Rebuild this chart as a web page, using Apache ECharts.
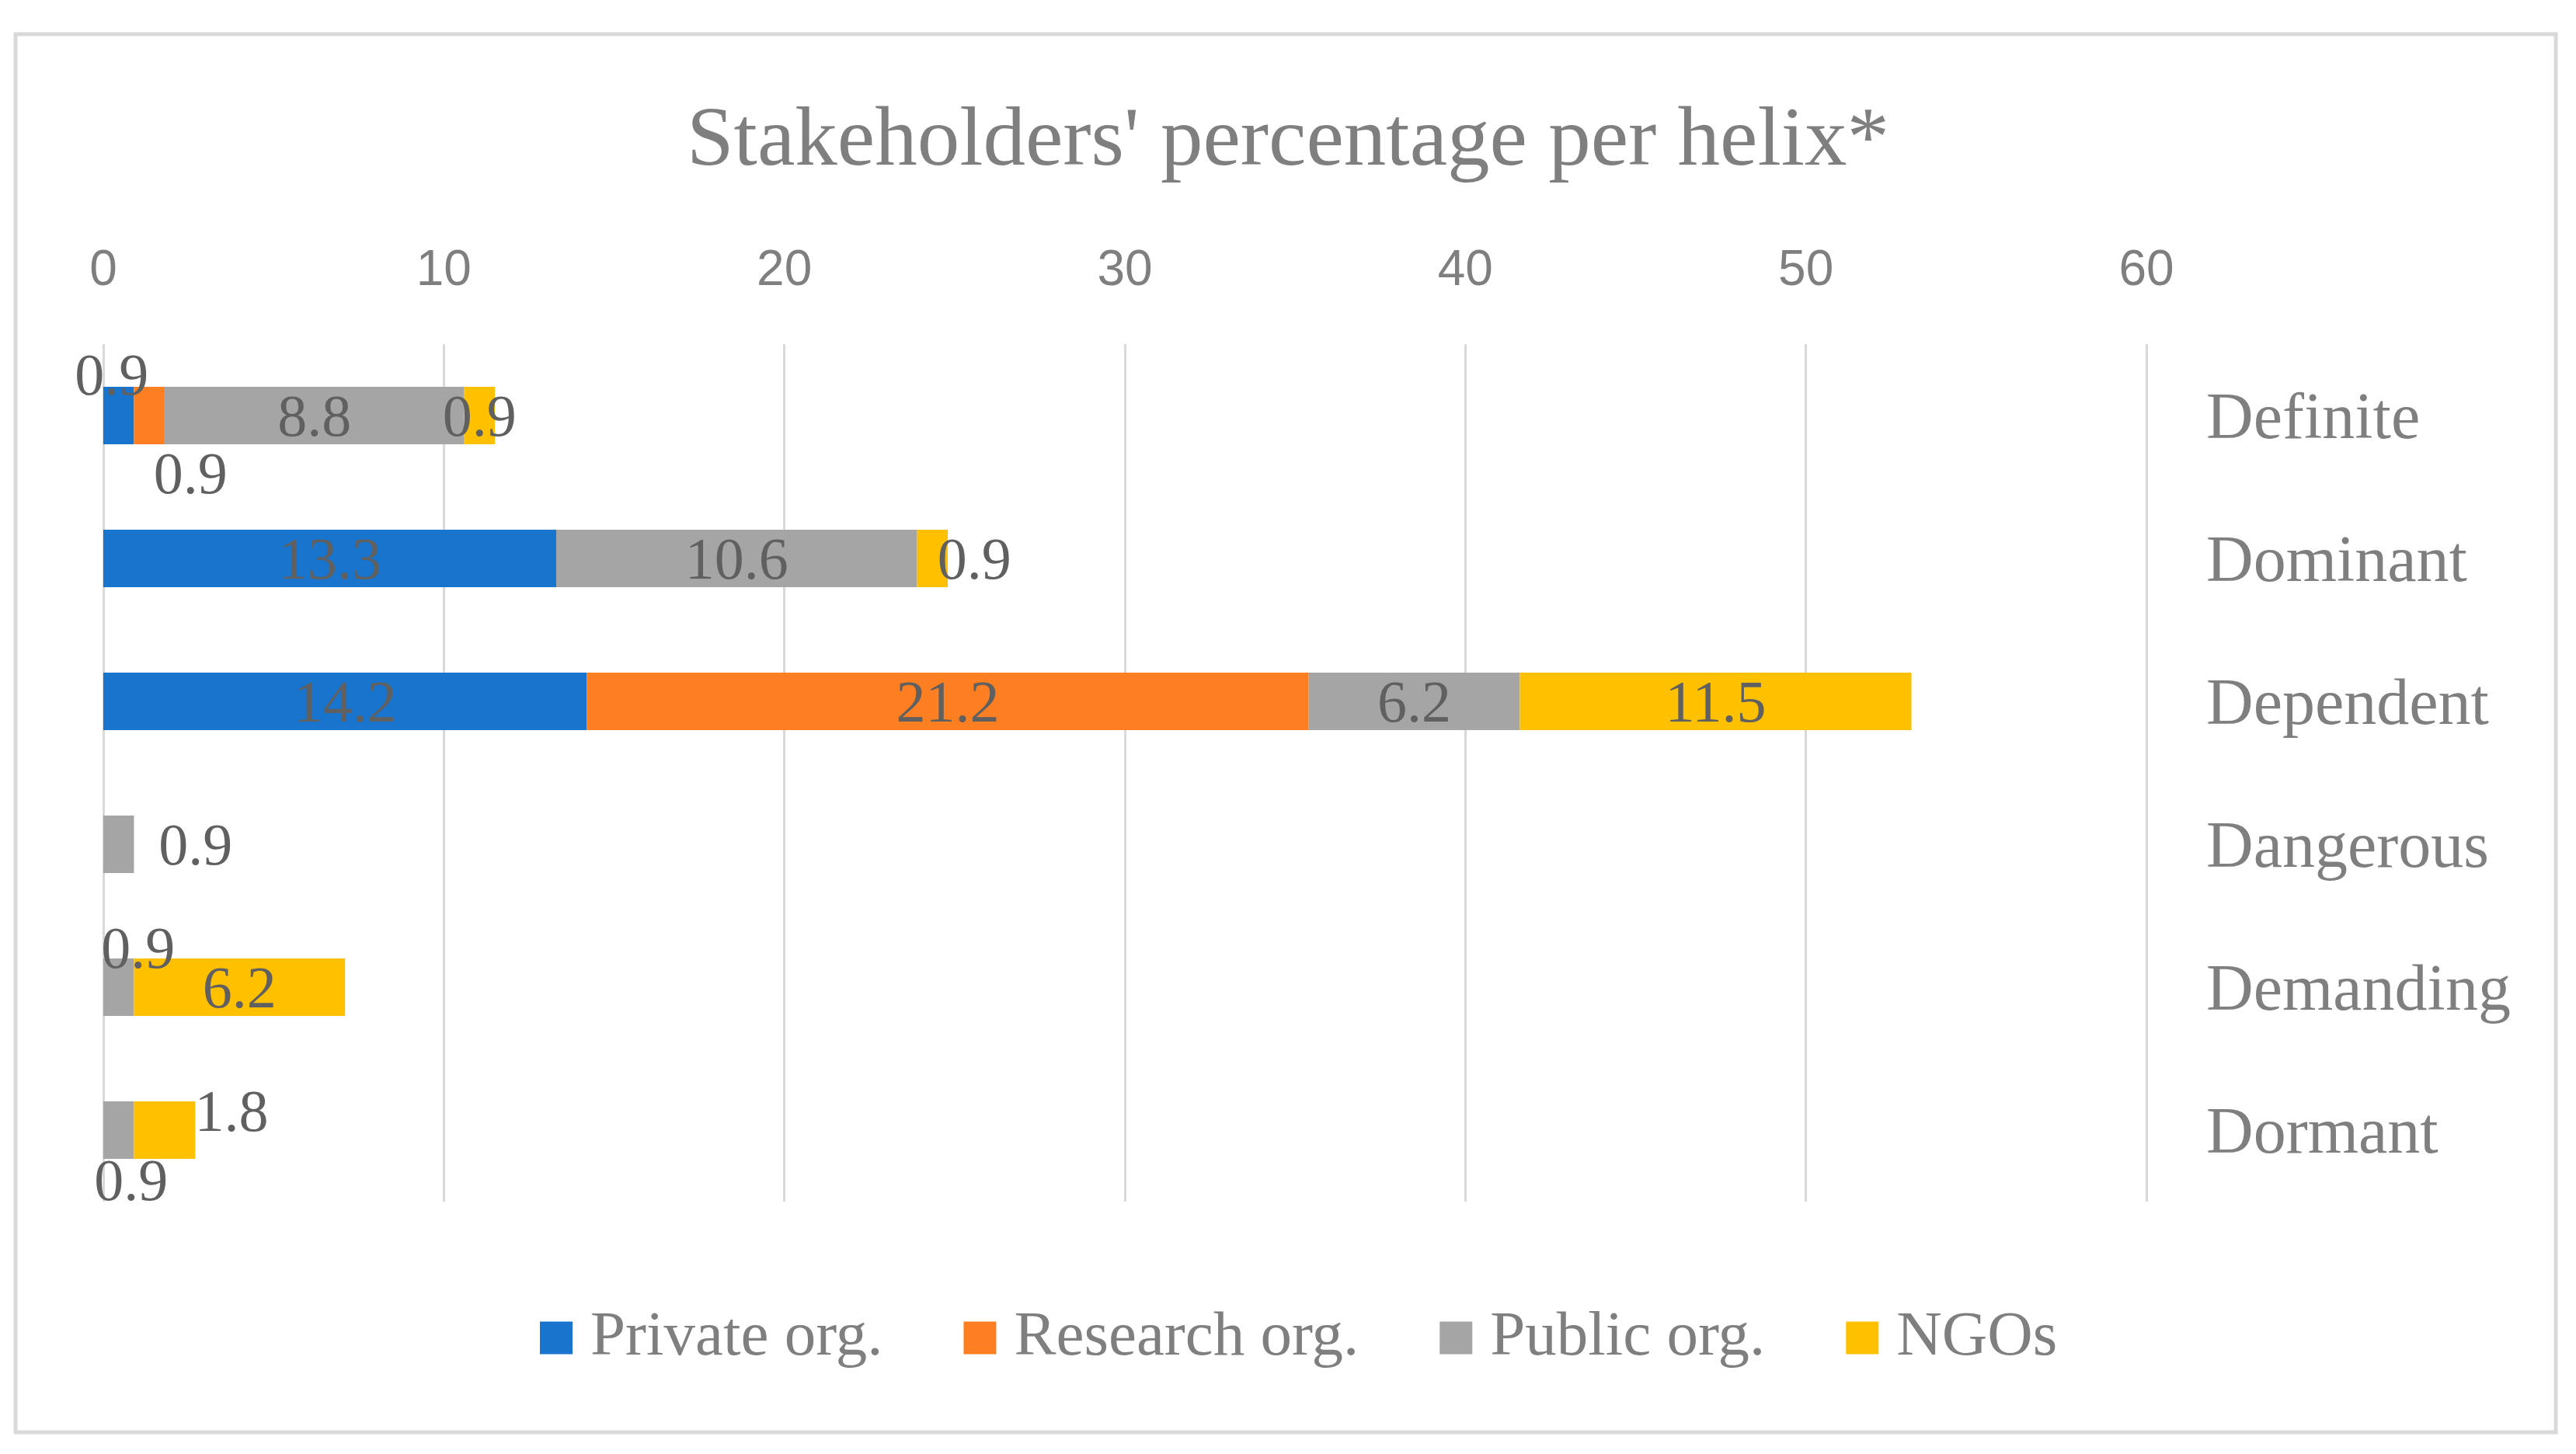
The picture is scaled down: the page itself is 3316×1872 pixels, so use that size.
<!DOCTYPE html>
<html>
<head>
<meta charset="utf-8">
<script src="https://cdn.jsdelivr.net/npm/echarts@6/dist/echarts.min.js"></script>
<style>
  html, body { margin: 0; padding: 0; background: #fff; }
  #chart { width: 3316px; height: 1872px; }
</style>
</head>
<body>
<div id="chart"></div>
<script>
// categories top to bottom
var categories = ['Definite', 'Dominant', 'Dependent', 'Dangerous', 'Demanding', 'Dormant'];
var seriesNames = ['Private org.', 'Research org.', 'Public org.', 'NGOs'];
var privateOrg = [0.9, 13.3, 14.2, 0, 0, 0];
var researchOrg = [0.9, 0, 21.2, 0, 0, 0];
var publicOrg = [8.8, 10.6, 6.2, 0.9, 0.9, 0.9];
var ngos = [0.9, 0.9, 11.5, 0, 6.2, 1.8];
var xTicks = [0, 10, 20, 30, 40, 50, 60];

var colors = ['#1874cd', '#fe7f22', '#a5a5a5', '#ffc000'];
var serif = 'Liberation Serif';

// labels that were dragged off the bar centre in the original (series index -> category index -> [dx, dy])
var labelShift = {
  0: { 0: [-9, -47] },
  1: { 0: [53, 80] },
  2: { 3: [99, 6], 4: [25, -45], 5: [16, 70] },
  3: { 1: [54, 6], 5: [86, -19] }
};

function buildData(values, si) {
  return values.map(function (v, ci) {
    var s = labelShift[si] && labelShift[si][ci];
    return { value: v, label: { offset: s || [0, 6] } };
  });
}

var allValues = [privateOrg, researchOrg, publicOrg, ngos];

var chart = echarts.init(document.getElementById('chart'));
var option = {
  animation: false,
  color: colors,
  graphic: [{
    type: 'rect',
    shape: { x: 20, y: 44, width: 3270, height: 1800 },
    style: { fill: 'none', stroke: '#d9d9d9', lineWidth: 5 }
  }],
  title: {
    text: "Stakeholders' percentage per helix*",
    left: 'center',
    top: 124,
    textStyle: { fontFamily: serif, fontSize: 109, fontWeight: 'normal', color: '#7f7f7f' }
  },
  legend: {
    data: seriesNames,
    bottom: 104,
    left: 690,
    icon: 'rect',
    itemWidth: 42,
    itemHeight: 42,
    itemGap: 104,
    textStyle: { fontFamily: serif, fontSize: 81, color: '#7f7f7f', padding: [0, 0, 0, 18] }
  },
  grid: { left: 133, right: 3316 - 2763, top: 443, bottom: 1872 - 1547, containLabel: false },
  xAxis: {
    type: 'value',
    position: 'top',
    min: xTicks[0],
    max: xTicks[xTicks.length - 1],
    interval: 10,
    axisLine: { show: false },
    axisTick: { show: false },
    axisLabel: { fontFamily: 'Liberation Sans', fontSize: 64, color: '#7f7f7f', margin: 62 },
    splitLine: { show: true, lineStyle: { color: '#d9d9d9', width: 3 } }
  },
  yAxis: {
    type: 'category',
    data: categories,
    inverse: true,
    position: 'right',
    axisLine: { show: false },
    axisTick: { show: false },
    axisLabel: {
      margin: 77,
      align: 'left',
      formatter: '{c|{value}}',
      rich: { c: { fontFamily: serif, fontSize: 84, color: '#7f7f7f', padding: [14, 0, 0, 0] } }
    },
    splitLine: { show: false }
  },
  series: seriesNames.map(function (name, si) {
    return {
      name: name,
      type: 'bar',
      stack: 'total',
      barWidth: 74,
      data: buildData(allValues[si], si),
      label: {
        show: true,
        position: 'inside',
        fontFamily: serif,
        fontSize: 76,
        color: '#606060',
        formatter: function (p) { return p.value ? p.value.toFixed(1) : ''; }
      }
    };
  })
};
chart.setOption(option);
</script>
</body>
</html>
